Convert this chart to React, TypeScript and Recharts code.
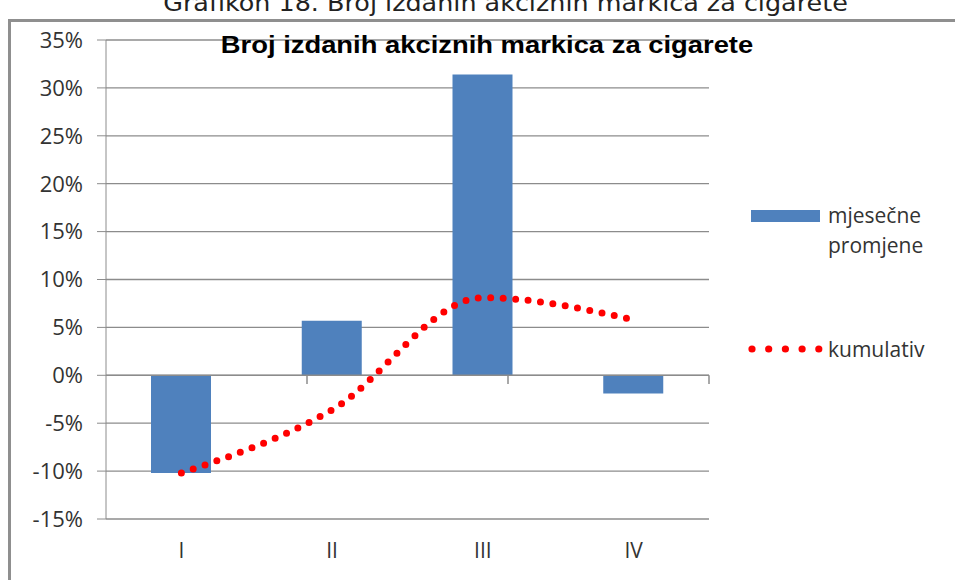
import React from "react";
import { Bar, CartesianGrid, ComposedChart, Legend, Line, ReferenceLine, XAxis, YAxis } from "recharts";

const quarters = ["I", "II", "III", "IV"];
const monthlyChange = [-10.2, 5.7, 31.4, -1.9];
const cumulative = [-10.2, -3.6, 8.1, 5.8];
const yTicks = [-15, -10, -5, 0, 5, 10, 15, 20, 25, 30, 35];
const boundaries = [1, 2, 3, 4];

const data = quarters.map((q, i) => ({ q, monthly: monthlyChange[i], cumulative: cumulative[i] }));

const axisFont = "'Open Sans', 'Noto Sans', sans-serif";
const gridColor = "#8c8c8c";

function LegendBox() {
  return (
    <div style={{ fontFamily: axisFont, fontSize: 21, color: "#333", lineHeight: "30px" }}>
      <div style={{ display: "flex", alignItems: "flex-start" }}>
        <div style={{ width: 69, height: 12, background: "#4f81bd", marginTop: 10, marginRight: 8 }} />
        <div>
          mjesečne
          <br />
          promjene
        </div>
      </div>
      <div style={{ display: "flex", alignItems: "center", marginTop: 74 }}>
        <svg width={77} height={10} style={{ marginLeft: -3 }}>
          {[0, 1, 2, 3, 4].map((k) => (
            <circle key={k} cx={4 + k * 16.7} cy={5} r={3.6} fill="#ff0000" />
          ))}
        </svg>
        <span style={{ marginLeft: 3 }}>kumulativ</span>
      </div>
    </div>
  );
}

export default function App() {
  return (
    <div style={{ position: "absolute", left: 0, top: 0, width: 955, height: 580, overflow: "hidden", background: "#fff" }}>
      <div
        style={{
          position: "absolute",
          left: 28,
          width: 955,
          top: -10,
          textAlign: "center",
          fontFamily: "'DejaVu Sans', sans-serif",
          fontSize: 22.5,
          color: "#222",
          transform: "scaleX(1.13)",
          transformOrigin: "center",
        }}
      >
        Grafikon 18. Broj izdanih akciznih markica za cigarete
      </div>
      <div
        style={{
          position: "absolute",
          left: 8,
          top: 19,
          width: 960,
          height: 600,
          border: "3px solid #8f8f8f",
          boxSizing: "border-box",
        }}
      />
      <ComposedChart
        width={955}
        height={580}
        data={data}
        margin={{ top: 40, right: 46, bottom: 21, left: 10 }}
        style={{ position: "absolute", left: 0, top: 0 }}
      >
        <CartesianGrid vertical={false} stroke={gridColor} strokeWidth={1.3} />
        <XAxis
          dataKey="q"
          axisLine={false}
          tickLine={false}
          height={40}
          tickMargin={18}
          tick={{ fontFamily: axisFont, fontSize: 21, fill: "#333" }}
        />
        <XAxis xAxisId="n" type="number" domain={[0, 4]} hide />
        <YAxis
          type="number"
          domain={[-15, 35]}
          ticks={yTicks}
          interval={0}
          width={96}
          tickSize={9}
          tickMargin={14}
          tickFormatter={(v) => `${v}%`}
          stroke={gridColor}
          tick={{ fontFamily: axisFont, fontSize: 22, fill: "#333" }}
        />
        <ReferenceLine y={0} stroke={gridColor} strokeWidth={1.5} />
        {boundaries.map((b) => (
          <ReferenceLine
            key={b}
            xAxisId="n"
            segment={[
              { x: b, y: 0 },
              { x: b, y: -0.9 },
            ]}
            stroke={gridColor}
            strokeWidth={1.5}
          />
        ))}
        <Bar dataKey="monthly" name="mjesečne promjene" fill="#4f81bd" barSize={60} isAnimationActive={false} />
        <Line
          dataKey="cumulative"
          name="kumulativ"
          type="monotone"
          stroke="#ff0000"
          strokeWidth={7}
          strokeDasharray="0 12.5"
          strokeLinecap="round"
          dot={false}
          activeDot={false}
          isAnimationActive={false}
        />
        <Legend
          layout="vertical"
          verticalAlign="top"
          align="right"
          content={() => <LegendBox />}
          wrapperStyle={{ left: 751, top: 200, width: 200 }}
        />
      </ComposedChart>
      <div
        style={{
          position: "absolute",
          left: 187,
          width: 600,
          top: 32,
          textAlign: "center",
          fontFamily: "'Liberation Sans', Arial, sans-serif",
          fontWeight: "bold",
          fontSize: 23,
          color: "#000",
          transform: "scaleX(1.19)",
          transformOrigin: "center",
        }}
      >
        Broj izdanih akciznih markica za cigarete
      </div>
    </div>
  );
}
